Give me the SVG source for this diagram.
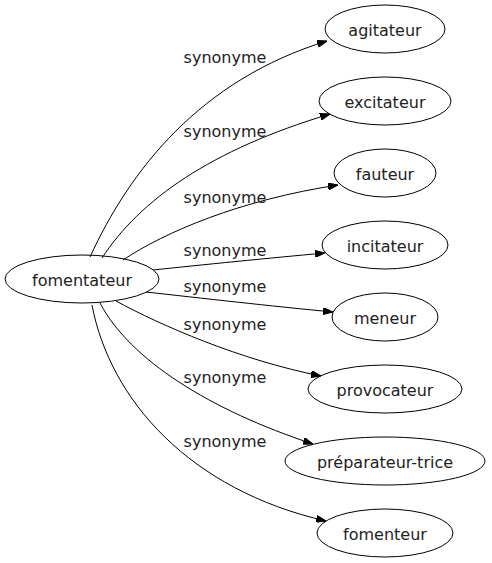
<svg xmlns="http://www.w3.org/2000/svg" width="492" height="563" viewBox="0 0 492 563">
<style>
  .node ellipse { fill: none; stroke: #000; stroke-width: 1; }
  text { font-family: "DejaVu Sans", sans-serif; font-size: 16px; fill: #222; text-anchor: middle; }
  .edge path { fill: none; stroke: #000; stroke-width: 1; marker-end: url(#ah); }
</style>
<defs>
  <marker id="ah" markerWidth="10" markerHeight="7" refX="10" refY="3.5" orient="auto" markerUnits="userSpaceOnUse">
    <polygon points="0,0 10,3.5 0,7" fill="#000" stroke="#000" stroke-width="1"/>
  </marker>
</defs>
<rect width="492" height="563" fill="#fff"/>
<g id="edges" class="edge">
  <path d="M90,257 C130,170 200,80 327,41"/>
  <path d="M102,258 C140,200 210,150 330,114"/>
  <path d="M123,260 C165,232 240,200 338,185"/>
  <path d="M153,270 C200,265 270,258 325,253"/>
  <path d="M146,292 C200,298 270,306 333,312"/>
  <path d="M116,301 C160,325 240,360 321,376"/>
  <path d="M100,303 C130,360 210,410 313,444"/>
  <path d="M92,305 C110,400 190,490 326,521"/>
  <text x="225" y="63">synonyme</text>
  <text x="225" y="137">synonyme</text>
  <text x="225" y="203">synonyme</text>
  <text x="225" y="256">synonyme</text>
  <text x="225" y="292">synonyme</text>
  <text x="225" y="330">synonyme</text>
  <text x="225" y="383">synonyme</text>
  <text x="225" y="447">synonyme</text>
</g>
<g id="fomentateur" class="node"><ellipse cx="82" cy="279" rx="77" ry="24"/><text x="82" y="285.5">fomentateur</text></g>
<g id="agitateur" class="node"><ellipse cx="385" cy="29" rx="60" ry="24"/><text x="385" y="35.5">agitateur</text></g>
<g id="excitateur" class="node"><ellipse cx="385" cy="101" rx="66" ry="24"/><text x="385" y="107.5">excitateur</text></g>
<g id="fauteur" class="node"><ellipse cx="385" cy="173" rx="51" ry="24"/><text x="385" y="179.5">fauteur</text></g>
<g id="incitateur" class="node"><ellipse cx="385" cy="245" rx="63" ry="24"/><text x="385" y="251.5">incitateur</text></g>
<g id="meneur" class="node"><ellipse cx="385" cy="317" rx="53" ry="24"/><text x="385" y="323.5">meneur</text></g>
<g id="provocateur" class="node"><ellipse cx="385" cy="389" rx="77" ry="24"/><text x="385" y="395.5">provocateur</text></g>
<g id="preparateur-trice" class="node"><ellipse cx="385" cy="461" rx="100" ry="24"/><text x="385" y="467.5">préparateur-trice</text></g>
<g id="fomenteur" class="node"><ellipse cx="385" cy="533" rx="68" ry="24"/><text x="385" y="539.5">fomenteur</text></g>
</svg>
